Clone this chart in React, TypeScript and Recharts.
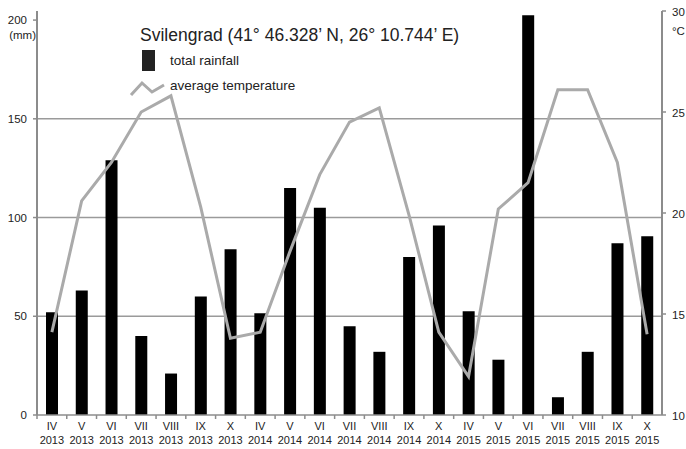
import React from 'react';
import { ComposedChart, Bar, Line, XAxis, YAxis, ReferenceLine } from 'recharts';

// months + years shown under each bar
const months = ['IV', 'V', 'VI', 'VII', 'VIII', 'IX', 'X', 'IV', 'V', 'VI', 'VII', 'VIII', 'IX', 'X', 'IV', 'V', 'VI', 'VII', 'VIII', 'IX', 'X'];
const years = ['2013', '2013', '2013', '2013', '2013', '2013', '2013', '2014', '2014', '2014', '2014', '2014', '2014', '2014', '2015', '2015', '2015', '2015', '2015', '2015', '2015'];

// total rainfall (mm)
const rainfall = [52, 63, 129, 40, 21, 60, 84, 51.5, 115, 105, 45, 32, 80, 96, 52.5, 28, 202.5, 9, 32, 87, 90.5];
// average temperature (°C)
const temperature = [14.1, 20.6, 22.5, 25.0, 25.8, 20.3, 13.8, 14.1, 18.1, 21.9, 24.5, 25.2, 19.9, 14.1, 11.9, 20.2, 21.5, 26.1, 26.1, 22.5, 14.0];

const rainTicks = [0, 50, 100, 150, 200];
const tempTicks = [10, 15, 20, 25, 30];
const gridValues = [50, 100, 150];

const data = months.map((m, i) => ({
  key: `${m} ${years[i]}`,
  rain: rainfall[i],
  temp: temperature[i],
}));

const W = 686;
const H = 449;
const LEFT_W = 37;
const RIGHT_W = 24;
const TOP = 11;
const X_H = 34;
const BAND = (W - LEFT_W - RIGHT_W) / data.length;

const FONT = '"Liberation Sans", Arial, sans-serif';
const AXIS = '#8c8c8c';
const GRID = '#9a9a9a';
const TEXT = '#222';

const MonthTick = ({ x, y, payload }: any) => {
  const i = payload.index;
  return (
    <g>
      <line x1={x - BAND / 2} x2={x - BAND / 2} y1={y} y2={y + 4} stroke={AXIS} strokeWidth={1.5} />
      <text x={x} y={y + 11} textAnchor="middle" dominantBaseline="central" fontSize={11} fill={TEXT} fontFamily={FONT}>
        {months[i]}
      </text>
      <text x={x} y={y + 25} textAnchor="middle" dominantBaseline="central" fontSize={11} fill={TEXT} fontFamily={FONT}>
        {years[i]}
      </text>
    </g>
  );
};

const RainTick = ({ x, y, payload }: any) => (
  <g>
    <text x={x} y={y} textAnchor="end" dominantBaseline="central" fontSize={11.5} fill={TEXT} fontFamily={FONT}>
      {payload.value}
    </text>
    {payload.value === 200 && (
      <text x={x + 9} y={y + 15} textAnchor="end" dominantBaseline="central" fontSize={11.5} fill={TEXT} fontFamily={FONT}>
        (mm)
      </text>
    )}
  </g>
);

const TempTick = ({ x, y, payload }: any) => (
  <g>
    <text x={x} y={y + 1} textAnchor="start" dominantBaseline="central" fontSize={11.5} fill={TEXT} fontFamily={FONT}>
      {payload.value}
    </text>
    {payload.value === 30 && (
      <text x={x} y={y + 20} textAnchor="start" dominantBaseline="central" fontSize={11.5} fill={TEXT} fontFamily={FONT}>
        °C
      </text>
    )}
  </g>
);

const App: React.FC = () => {
  return (
    <div style={{ position: 'absolute', left: 0, top: 0, width: W, height: H, background: '#fff' }}>
      <ComposedChart width={W} height={H} data={data} margin={{ top: TOP, right: 0, bottom: 0, left: 0 }}>
        <XAxis
          dataKey="key"
          interval={0}
          height={X_H}
          tickLine={false}
          tickSize={0}
          tickMargin={0}
          axisLine={{ stroke: AXIS, strokeWidth: 1.5 }}
          tick={<MonthTick />}
        />
        <YAxis
          yAxisId="rain"
          width={LEFT_W}
          domain={[0, 204.6]}
          ticks={rainTicks}
          interval={0}
          tickSize={4}
          tickMargin={6}
          axisLine={{ stroke: AXIS, strokeWidth: 2 }}
          tickLine={{ stroke: AXIS, strokeWidth: 1.5 }}
          tick={<RainTick />}
        />
        <YAxis
          yAxisId="temp"
          orientation="right"
          width={RIGHT_W}
          domain={[10, 30]}
          ticks={tempTicks}
          interval={0}
          tickSize={4}
          tickMargin={6}
          axisLine={{ stroke: AXIS, strokeWidth: 2 }}
          tickLine={{ stroke: AXIS, strokeWidth: 1.5 }}
          tick={<TempTick />}
        />
        {/* gridlines sit behind the bars */}
        {gridValues.map(v => (
          <ReferenceLine key={v} yAxisId="rain" y={v} stroke={GRID} strokeWidth={1.5} zIndex={-100} />
        ))}
        <Bar yAxisId="rain" dataKey="rain" fill="#000" barSize={12} isAnimationActive={false} />
        <Line
          yAxisId="temp"
          dataKey="temp"
          type="linear"
          stroke="#aaaaaa"
          strokeWidth={3}
          dot={false}
          activeDot={false}
          isAnimationActive={false}
        />
      </ComposedChart>

      {/* title + legend */}
      <div style={{ position: 'absolute', left: 140, top: 25, fontFamily: FONT, fontSize: 17.5, lineHeight: '20px', color: TEXT, whiteSpace: 'nowrap' }}>
        Svilengrad (41° 46.328’ N, 26° 10.744’ E)
      </div>
      <div style={{ position: 'absolute', left: 142, top: 50, width: 13, height: 21, background: '#222' }} />
      <div style={{ position: 'absolute', left: 170, top: 52, fontFamily: FONT, fontSize: 13.5, lineHeight: '18px', color: TEXT, whiteSpace: 'nowrap' }}>
        total rainfall
      </div>
      <svg style={{ position: 'absolute', left: 0, top: 0 }} width={W} height={H} pointerEvents="none">
        <polyline points="131,95 142,83 152,92 164,85" fill="none" stroke="#aaaaaa" strokeWidth={3} />
      </svg>
      <div style={{ position: 'absolute', left: 170, top: 77, fontFamily: FONT, fontSize: 13.5, lineHeight: '18px', color: TEXT, whiteSpace: 'nowrap' }}>
        average temperature
      </div>
    </div>
  );
};

export default App;
